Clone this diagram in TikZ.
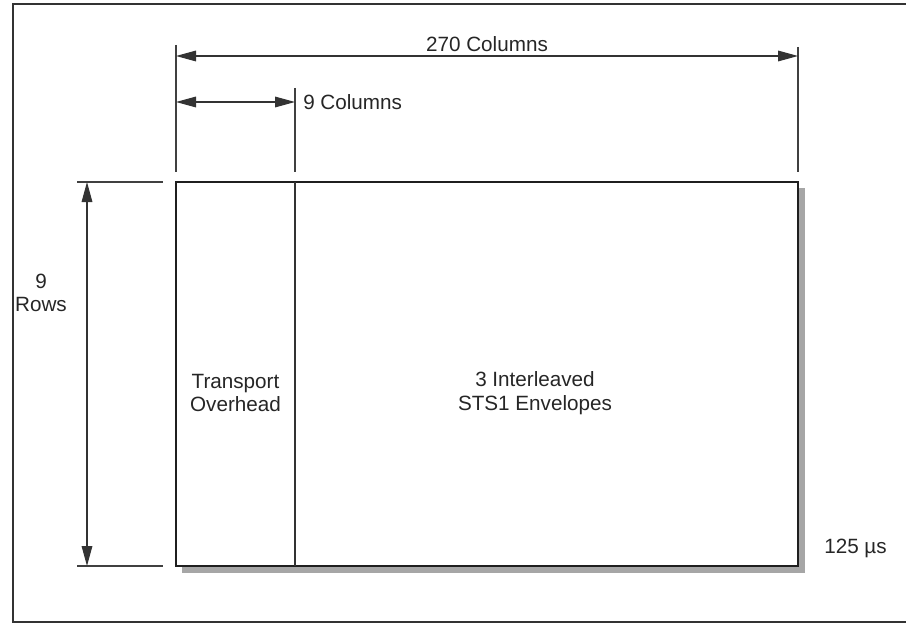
\documentclass[tikz,border=0pt]{standalone}
\usepackage{fontspec}
\setmainfont{Liberation Sans}
\usetikzlibrary{arrows.meta}
\begin{document}
\begin{tikzpicture}[x=0.75pt,y=-0.75pt,
  lbl/.style={font=\fontsize{15.5}{17.5}\selectfont, text=black!85, align=center, inner sep=0pt},
  dim/.style={draw=black!80, line width=0.8pt, {Triangle[length=15pt,width=8pt]}-{Triangle[length=15pt,width=8pt]}},
  ext/.style={draw=black!75, line width=0.8pt},
  frame/.style={draw=black!80, line width=1.5pt},
  shadow/.style={fill=black!35},
  box/.style={draw=black!88, line width=1.6pt, fill=white}
]
\clip (0,0) rectangle (906,624);
% outer frame
\draw[frame] (930,4.5) -- (12.5,4.5) -- (12.5,621.5) -- (930,621.5);
% coordinates
\coordinate (tl) at (176,182);
\coordinate (br) at (798,566);
\coordinate (dt) at (295,182);
\coordinate (db) at (295,566);
% shadow and box
\fill[shadow] (182,188) rectangle (805,573);
\draw[box] (tl) rectangle (br);
\draw[draw=black!80, line width=1pt] (dt) -- (db);
% extension lines
\coordinate (e1a) at (176,45);  \coordinate (e1b) at (176,172);
\coordinate (e2a) at (798,47);  \coordinate (e2b) at (798,172);
\coordinate (e3a) at (295,88);  \coordinate (e3b) at (295,172);
\coordinate (e4a) at (77,182);  \coordinate (e4b) at (163,182);
\coordinate (e5a) at (77,566);  \coordinate (e5b) at (163,566);
\draw[ext] (e1a) -- (e1b);
\draw[ext] (e2a) -- (e2b);
\draw[ext] (e3a) -- (e3b);
\draw[ext] (e4a) -- (e4b);
\draw[ext] (e5a) -- (e5b);
% dimension arrows
\coordinate (a1) at (176,56);  \coordinate (a2) at (798,56);
\coordinate (b1) at (176,102); \coordinate (b2) at (295,102);
\coordinate (c1) at (87,182);  \coordinate (c2) at (87,566);
\draw[dim] (a1) -- (a2);
\draw[dim] (b1) -- (b2);
\draw[dim] (c1) -- (c2);
% labels
\node[lbl] (t270) at (487,44) {270 Columns};
\node[lbl, anchor=west] (t9c) at (303,102) {9 Columns};
\node[lbl] (t9r) at (41,293) {9\\Rows};
\node[lbl] (ttoh) at (235.5,393) {Transport\\Overhead};
\node[lbl] (tsts) at (535,393) {3 Interleaved\\STS1 Envelopes};
\node[lbl, anchor=west] (tus) at (824,548) {125 µs};
\end{tikzpicture}
\end{document}
